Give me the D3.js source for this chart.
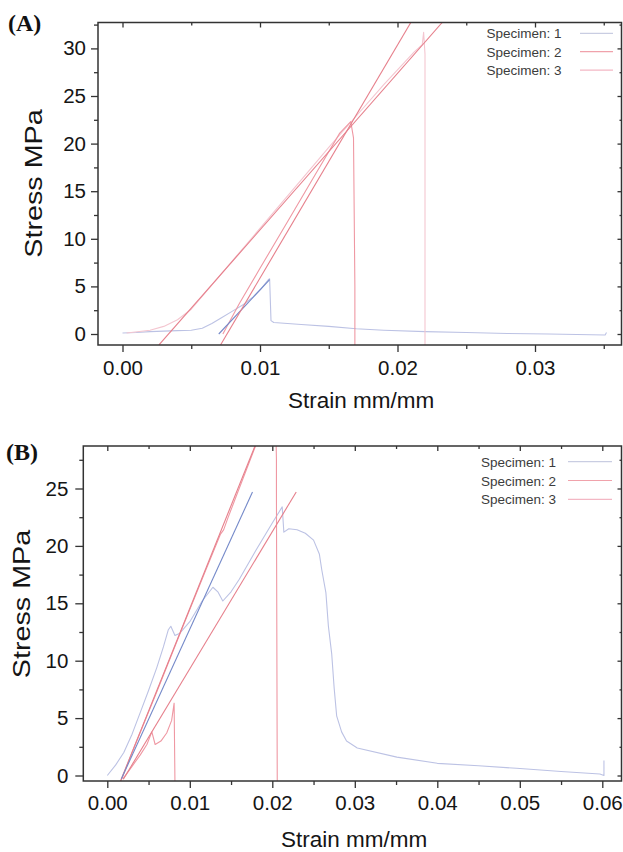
<!DOCTYPE html>
<html>
<head>
<meta charset="utf-8">
<script src="https://cdn.jsdelivr.net/npm/d3@7"></script>
<style>
  body { margin: 0; background: #fff; }
  svg text { font-family: "Liberation Sans", Arial, sans-serif; }
</style>
</head>
<body>
<svg id="chart" width="623" height="852"></svg>
<script>
// ---- data (strain mm/mm, stress MPa) ----
const specimens = ["Specimen: 1", "Specimen: 2", "Specimen: 3"];

// panel A
const aXTicks = [0, 0.01, 0.02, 0.03];
const aYTicks = [0, 5, 10, 15, 20, 25, 30];
const aSpec1 = [[0.0,0.1],[0.001,0.15],[0.002,0.25],[0.003,0.3],[0.004,0.35],[0.005,0.4],[0.0058,0.6],
  [0.0065,1.1],[0.0072,1.7],[0.008,2.4],[0.0088,3.1],[0.0095,3.9],[0.0101,4.8],[0.0106,5.7],[0.0107,5.8],
  [0.0108,1.4],[0.011,1.2],[0.013,1.0],[0.015,0.8],[0.017,0.55],[0.019,0.4],[0.022,0.25],[0.025,0.15],
  [0.028,0.05],[0.031,0.0],[0.0351,-0.1],[0.0352,0.15]];
const aSpec1Fit = [[0.0070,0.0],[0.0107,5.7]];
const aSpec2 = [[0.0073,0.0],[0.0085,3.2],[0.010,6.9],[0.012,11.8],[0.014,16.7],[0.0158,21.1],
  [0.0166,22.3],[0.0168,20.6],[0.0169,5],[0.0169,-1.2]];
const aSpec2Fit = [[0.00713,-1.15],[0.0210,32.8]];
const aSpec3 = [[0.0003,0.1],[0.002,0.4],[0.003,0.8],[0.004,1.5],[0.005,2.6],[0.007,6.0],[0.009,9.4],
  [0.011,12.8],[0.013,16.2],[0.015,19.6],[0.017,22.9],[0.019,26.2],[0.0212,29.6],[0.0218,30.4],
  [0.0219,31.7],[0.0220,29.4],[0.0220,-1.2]];
const aSpec3Fit = [[0.00265,-1.15],[0.0233,32.8]];

// panel B
const bXTicks = [0, 0.01, 0.02, 0.03, 0.04, 0.05, 0.06];
const bYTicks = [0, 5, 10, 15, 20, 25];
const bSpec1 = [[0.0,0.0],[0.001,0.9],[0.002,2.0],[0.003,3.6],[0.004,5.5],[0.005,7.4],[0.006,9.4],
  [0.0068,11.2],[0.0074,12.7],[0.0077,13.0],[0.0082,12.2],[0.0088,12.4],[0.010,13.4],[0.0115,15.2],
  [0.0128,16.4],[0.0134,16.0],[0.0140,15.2],[0.0150,16.0],[0.016,17.1],[0.018,19.6],[0.020,22.0],
  [0.0212,23.4],[0.0214,21.2],[0.022,21.5],[0.023,21.4],[0.024,21.1],[0.025,20.5],[0.0257,19.3],
  [0.026,17.9],[0.0265,15.9],[0.0268,13],[0.0272,10.6],[0.0275,7.6],[0.0278,5.2],[0.0284,3.8],
  [0.029,3.0],[0.0303,2.4],[0.0351,1.6],[0.040,1.06],[0.045,0.85],[0.0496,0.63],[0.055,0.35],
  [0.0597,0.13],[0.0602,0.0],[0.0602,1.3]];
const bSpec1Fit = [[0.0017,-0.3],[0.0176,24.7]];
const bSpec2 = [[0.0016,-0.57],[0.003,2.0],[0.006,7.3],[0.009,12.7],[0.012,18.0],[0.0137,21.0],
  [0.0141,21.4],[0.0146,22.4],[0.0178,28.4],[0.019,30.5],[0.0204,31],[0.0205,27.6],[0.0205,24.8],
  [0.0206,-0.57]];
const bSpec2Fit = [[0.00155,-0.57],[0.0179,28.7]];
const bSpec3 = [[0.0019,-0.3],[0.003,0.8],[0.004,1.8],[0.0048,2.7],[0.0054,3.8],[0.0058,2.7],
  [0.0065,3.0],[0.0072,3.7],[0.0078,4.8],[0.0081,6.3],[0.0082,-0.57]];
const bSpec3Fit = [[0.00194,-0.33],[0.0229,24.7]];

// ---- styles ----
const C = {
  s1: "#bcc2e4", s1fit: "#7489c9",
  s2: "#ef98a3", fit: "#e67f8b",
  s3: "#f4c6d0",
  leg: ["#c9cde2", "#f0a2ab", "#f3b7c4"]
};
const SANS = '"Liberation Sans", Arial, sans-serif';

const svg = d3.select("#chart");

function drawPanel(p) {
  const g = svg.append("g");
  // scales pinned to the tick positions of the picture
  const x = d3.scaleLinear().domain([0, p.xTicks[p.xTicks.length - 1]]).range(p.xRange);
  const y = d3.scaleLinear().domain([0, p.yTicks[p.yTicks.length - 1]]).range(p.yRange);
  const f = p.frame;

  g.append("clipPath").attr("id", "clip" + p.id)
    .append("rect").attr("x", f.l).attr("y", f.t).attr("width", f.r - f.l).attr("height", f.b - f.t);

  const line = d3.line().x(d => x(d[0])).y(d => y(d[1]));
  const plot = g.append("g").attr("clip-path", `url(#clip${p.id})`);
  p.traces.forEach(t => {
    plot.append("path").datum(t.pts)
      .attr("d", line)
      .attr("fill", "none")
      .attr("stroke", t.color)
      .attr("stroke-width", t.w || 1.1)
      .attr("stroke-linejoin", "round");
  });

  // minor tick values halfway between majors
  const xStep = p.xTicks[1] - p.xTicks[0], yStep = p.yTicks[1] - p.yTicks[0];
  const xMinor = d3.range(0, p.xTicks.length).map(i => p.xTicks[0] + (i + 0.5) * xStep)
    .filter(v => x(v) < f.r - 2);
  const yMinor = d3.range(-1, p.yTicks.length).map(i => p.yTicks[0] + (i + 0.5) * yStep)
    .filter(v => y(v) > f.t + 2 && y(v) < f.b - 2);

  const axStyle = sel => {
    sel.select(".domain").remove();
    sel.selectAll("line").attr("stroke", "#333").attr("stroke-width", 1.3);
    sel.selectAll("text").attr("fill", "#151515").style("font-size", p.tickFont + "px")
      .style("font-family", SANS);
  };

  // bottom
  g.append("g").attr("transform", `translate(0,${f.b})`)
    .call(d3.axisBottom(x).tickValues(p.xTicks).tickFormat(d3.format(".2f"))
      .tickSize(7).tickPadding(p.xPad)).call(axStyle);
  g.append("g").attr("transform", `translate(0,${f.b})`)
    .call(d3.axisBottom(x).tickValues(xMinor).tickFormat("").tickSize(4)).call(axStyle);
  // top (inward)
  g.append("g").attr("transform", `translate(0,${f.t})`)
    .call(d3.axisBottom(x).tickValues(p.xTicks).tickFormat("").tickSize(5)).call(axStyle);
  g.append("g").attr("transform", `translate(0,${f.t})`)
    .call(d3.axisBottom(x).tickValues(xMinor).tickFormat("").tickSize(3)).call(axStyle);
  // left
  g.append("g").attr("transform", `translate(${f.l},0)`)
    .call(d3.axisLeft(y).tickValues(p.yTicks).tickFormat(d3.format("d"))
      .tickSize(p.yTick).tickPadding(p.yPad)).call(axStyle);
  g.append("g").attr("transform", `translate(${f.l},0)`)
    .call(d3.axisLeft(y).tickValues(yMinor).tickFormat("").tickSize(4)).call(axStyle);
  // right (inward)
  g.append("g").attr("transform", `translate(${f.r},0)`)
    .call(d3.axisLeft(y).tickValues(p.yTicks).tickFormat("").tickSize(4)).call(axStyle);
  g.append("g").attr("transform", `translate(${f.r},0)`)
    .call(d3.axisLeft(y).tickValues(yMinor).tickFormat("").tickSize(2)).call(axStyle);

  // frame
  g.append("rect").attr("x", f.l).attr("y", f.t).attr("width", f.r - f.l).attr("height", f.b - f.t)
    .attr("fill", "none").attr("stroke", "#333").attr("stroke-width", 1.5);

  // titles
  g.append("text").attr("x", p.xTitle[0]).attr("y", p.xTitle[1]).attr("text-anchor", "middle")
    .attr("fill", "#151515").style("font-family", SANS).style("font-size", "22.5px")
    .text("Strain mm/mm");
  // the y title is stretched along its length, as in the source figure
  g.append("text").attr("transform", `translate(${p.yTitle[0]},${p.yTitle[1]}) rotate(-90) scale(1.25,1)`)
    .attr("text-anchor", "middle").attr("fill", "#151515")
    .style("font-family", SANS).style("font-size", "23px")
    .text("Stress MPa");
  g.append("text").attr("x", p.tag[0]).attr("y", p.tag[1])
    .style("font-family", '"Liberation Serif", "Times New Roman", serif')
    .style("font-weight", "bold").style("font-size", "24px").attr("fill", "#111").text(p.label);

  // legend
  specimens.forEach((s, i) => {
    const ly = p.leg.y + i * p.leg.dy;
    g.append("text").attr("x", p.leg.x).attr("y", ly + 5)
      .attr("fill", "#3c3c3c").style("font-family", SANS).style("font-size", "13.5px").text(s);
    g.append("line").attr("x1", p.leg.l1).attr("x2", p.leg.l2).attr("y1", ly).attr("y2", ly)
      .attr("stroke", C.leg[i]).attr("stroke-width", 1.2);
  });
}

drawPanel({
  id: "A", label: "(A)", tag: [8, 31],
  xTicks: aXTicks, yTicks: aYTicks,
  xRange: [122.5, 535], yRange: [334, 48.4],
  frame: { l: 98, r: 621.5, t: 22.5, b: 345 },
  tickFont: 20.5, xPad: 8, yTick: 7, yPad: 5,
  xTitle: [361, 408], yTitle: [42, 183.5],
  leg: { x: 486.5, y: 33.3, dy: 18.4, l1: 580, l2: 613 },
  traces: [
    { pts: aSpec1, color: C.s1 },
    { pts: aSpec3, color: C.s3 },
    { pts: aSpec2, color: C.s2 },
    { pts: aSpec1Fit, color: C.s1fit },
    { pts: aSpec3Fit, color: C.fit },
    { pts: aSpec2Fit, color: C.fit }
  ]
});

drawPanel({
  id: "B", label: "(B)", tag: [6, 460],
  xTicks: bXTicks, yTicks: bYTicks,
  xRange: [107.3, 602.3], yRange: [775.5, 488.5],
  frame: { l: 83.3, r: 621.5, t: 446, b: 781 },
  tickFont: 20.5, xPad: 7.5, yTick: 8, yPad: 7,
  xTitle: [354, 847], yTitle: [30, 604],
  leg: { x: 481, y: 461.7, dy: 18.8, l1: 568, l2: 612 },
  traces: [
    { pts: bSpec1, color: C.s1 },
    { pts: bSpec3, color: C.s2 },
    { pts: bSpec2, color: C.s2 },
    { pts: bSpec2Fit, color: C.fit },
    { pts: bSpec1Fit, color: C.s1fit },
    { pts: bSpec3Fit, color: C.fit }
  ]
});
</script>
</body>
</html>
